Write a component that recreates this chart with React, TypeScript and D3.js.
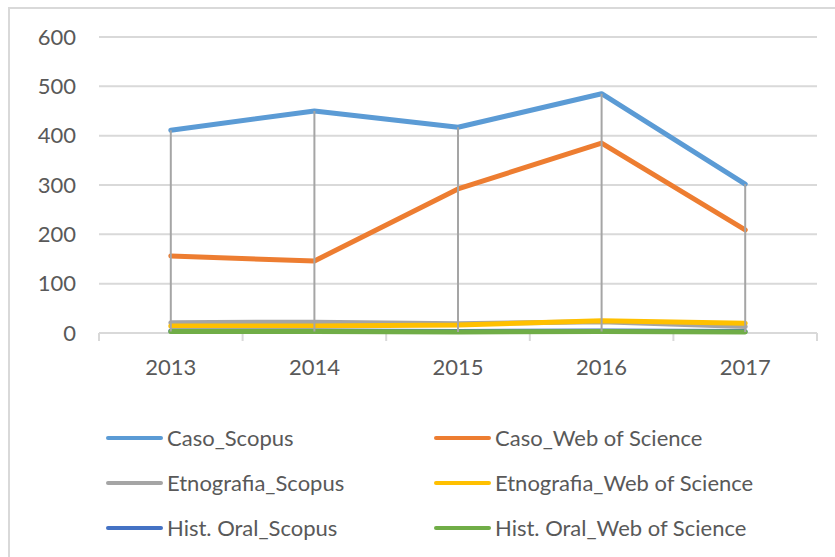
import React, { useEffect, useRef } from "react";
import * as d3 from "d3";

const years = ["2013", "2014", "2015", "2016", "2017"];
const casoScopus = [411, 450, 417, 485, 302];
const casoWoS = [156, 146, 292, 385, 209];
const etnoScopus = [21, 22, 19, 23, 13];
const etnoWoS = [14, 14, 16, 25, 20];
const histScopus = [4, 4, 3, 4, 3];
const histWoS = [3, 3, 2, 3, 2];
const yTicks = [0, 100, 200, 300, 400, 500, 600];

const seriesNames = [
  "Caso_Scopus",
  "Caso_Web of Science",
  "Etnografia_Scopus",
  "Etnografia_Web of Science",
  "Hist. Oral_Scopus",
  "Hist. Oral_Web of Science",
];
const seriesColors = ["#5b9bd5", "#ed7d31", "#a5a5a5", "#ffc000", "#4472c4", "#70ad47"];
const seriesValues = [casoScopus, casoWoS, etnoScopus, etnoWoS, histScopus, histWoS];

const W = 835;
const H = 557;
const FONT = "Lato, 'Open Sans', sans-serif";
const TEXT = "#595959";
const FS = 22;

export default function App() {
  const ref = useRef<SVGSVGElement>(null);

  useEffect(() => {
    const svg = d3.select(ref.current);
    svg.selectAll("*").remove();

    // frame
    svg.append("rect").attr("x", 0).attr("y", 0).attr("width", W).attr("height", H).attr("fill", "#fff");
    svg.append("path").attr("d", `M9,${H + 5} V8 H${W + 5}`).attr("fill", "none").attr("stroke", "#d9d9d9").attr("stroke-width", 2);

    const x = d3.scaleBand<string>().domain(years).range([99, 817]);
    const y = d3.scaleLinear().domain([0, 600]).range([333, 37]);
    const cx = (d: string) => (x(d) as number) + x.bandwidth() / 2;

    // gridlines
    svg.append("g").selectAll("line").data(yTicks.filter((t) => t > 0)).join("line")
      .attr("x1", 99).attr("x2", 817)
      .attr("y1", (d) => y(d)).attr("y2", (d) => y(d))
      .attr("stroke", "#d9d9d9").attr("stroke-width", 2);

    // y labels
    svg.append("g").selectAll("text").data(yTicks).join("text")
      .attr("x", 76).attr("y", (d) => y(d))
      .attr("dy", "0.35em").attr("text-anchor", "end")
      .attr("font-family", FONT).attr("font-size", FS).attr("fill", TEXT)
      .text((d) => String(d));

    // x axis line + ticks
    svg.append("line").attr("x1", 99).attr("x2", 817).attr("y1", y(0)).attr("y2", y(0))
      .attr("stroke", "#d9d9d9").attr("stroke-width", 2);
    const boundaries = years.map((d) => x(d) as number).concat([817]);
    svg.append("g").selectAll("line").data(boundaries).join("line")
      .attr("x1", (d) => d).attr("x2", (d) => d)
      .attr("y1", y(0)).attr("y2", y(0) + 8)
      .attr("stroke", "#d9d9d9").attr("stroke-width", 2);

    svg.append("g").selectAll("text").data(years).join("text")
      .attr("x", (d) => cx(d)).attr("y", 375)
      .attr("text-anchor", "middle")
      .attr("font-family", FONT).attr("font-size", FS).attr("fill", TEXT)
      .text((d) => d);

    // series lines
    const line = d3.line<number>().x((_, i) => cx(years[i])).y((v) => y(v));
    seriesValues.forEach((vals, si) => {
      svg.append("path").datum(vals).attr("d", line)
        .attr("fill", "none").attr("stroke", seriesColors[si])
        .attr("stroke-width", 5).attr("stroke-linecap", "round").attr("stroke-linejoin", "round");
    });

    // high-low lines
    svg.append("g").selectAll("line").data(years).join("line")
      .attr("x1", (d) => cx(d)).attr("x2", (d) => cx(d))
      .attr("y1", (_, i) => y(d3.max(seriesValues, (s) => s[i]) as number))
      .attr("y2", (_, i) => y(d3.min(seriesValues, (s) => s[i]) as number))
      .attr("stroke", "#a5a5a5").attr("stroke-width", 2);

    // legend
    const colX = [108, 436];
    const rowY = [438, 483, 528];
    seriesNames.forEach((name, i) => {
      const col = i % 2;
      const row = Math.floor(i / 2);
      const g = svg.append("g").attr("transform", `translate(${colX[col]},${rowY[row]})`);
      g.append("line").attr("x1", 0).attr("x2", 53).attr("y1", 0).attr("y2", 0)
        .attr("stroke", seriesColors[i]).attr("stroke-width", 4).attr("stroke-linecap", "round");
      g.append("text").attr("x", 59).attr("y", 0).attr("dy", "0.35em")
        .attr("font-family", FONT).attr("font-size", FS).attr("fill", TEXT)
        .text(name);
    });
  }, []);

  return (
    <svg
      ref={ref}
      width={W}
      height={H}
      style={{ position: "absolute", left: 0, top: 0, display: "block" }}
    />
  );
}
